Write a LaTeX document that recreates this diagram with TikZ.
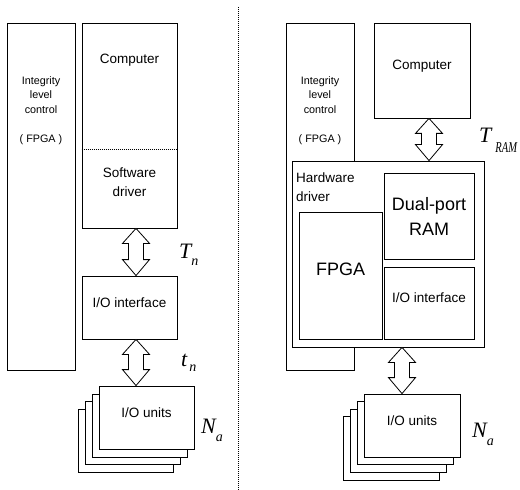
\documentclass[tikz,border=0pt]{standalone}
\usepackage{graphicx}
\usepackage{fontspec}
\setmainfont{Liberation Sans}
\newfontfamily\tms{Liberation Serif}
\usetikzlibrary{fit,calc}
\tikzset{
 box/.style={draw, line width=0.8bp, fill=white, inner sep=0pt},
 arrowline/.style={draw, line width=0.8bp, fill=white, line join=miter},
 normtxt/.style={font=\fontsize{13.5bp}{19bp}\selectfont, inner sep=0pt, align=center},
 smalltxt/.style={font=\fontsize{10.8bp}{14.5bp}\selectfont, inner sep=0pt, align=center},
 bigtxt/.style={font=\fontsize{18bp}{25bp}\selectfont, inner sep=0pt, align=center},
 mathlbl/.style={font=\fontsize{22bp}{22bp}\selectfont\tms\itshape, inner sep=0pt, anchor=base west},
 sepline/.style={line width=0.8bp, dash pattern=on 1bp off 1bp}
}
\newcommand\dblarrow[2]{\draw[arrowline] (#1) -- ($(#1)+(13.5,15)$) -- ($(#1)+(7.5,15)$) -- ($(#2)+(7.5,-16)$) -- ($(#2)+(13.5,-16)$) -- (#2) -- ($(#2)+(-13.5,-16)$) -- ($(#2)+(-7.5,-16)$) -- ($(#1)+(-7.5,15)$) -- ($(#1)+(-13.5,15)$) -- cycle;}
\newcommand\lowsub[3]{\raisebox{-#1}{\fontsize{#2}{#2}\selectfont #3}}
\begin{document}
\begin{tikzpicture}[x=1bp,y=-1bp]
\useasboundingbox (0,0) rectangle (520,490);
% separator
\coordinate (septop) at (238,7);
\coordinate (sepbot) at (238,490);
\draw[sepline] (septop) -- (sepbot);

% ---------- left ----------
\node[box, fit={(7,23) (75,370)}] (ilc) {};
\node[smalltxt, anchor=north] (ilctxt) at (41,76) {Integrity\\level\\control\\[14.5bp]( FPGA )};
\node[box, fit={(82,23) (177,228)}] (comp) {};
\draw[sepline] (comp.west |- 0,149) -- (comp.east |- 0,149);
\node[normtxt, anchor=base] (comptxt) at (129.5,63.5) {Computer};
\node[normtxt, anchor=north] (swd) at (129.5,168) {Software\\driver};
\node[box, normtxt, fit={(82,276) (177,339)}] (ioi) {I/O interface};
\node[box, fit={(78,409) (173,472)}] (u4) {};
\node[box, fit={(85,401.5) (180,464.5)}] (u3) {};
\node[box, fit={(92,394) (187,457)}] (u2) {};
\node[box, normtxt, fit={(99,386) (194,449)}] (u1) {I/O units};
\coordinate (a1t) at ($(comp.south)+(6.5,0)$);
\coordinate (a1b) at (ioi.north -| a1t);
\dblarrow{a1t}{a1b}
\coordinate (a2t) at (ioi.south -| a1t);
\coordinate (a2b) at (u1.north -| a1t);
\dblarrow{a2t}{a2b}
\node[mathlbl] (Tn) at (179,258) {T\lowsub{7bp}{14bp}{n}};
\node[mathlbl] (tn) at (181,366) {t\kern2bp\lowsub{5bp}{14bp}{n}};
\node[mathlbl] (Na) at (201,433) {N\lowsub{8bp}{14bp}{a}};

% ---------- right ----------
\node[box, fit={(286,23) (354,370)}] (rilc) {};
\node[smalltxt, anchor=north] (rilctxt) at (320,76) {Integrity\\level\\control\\[14.5bp]( FPGA )};
\node[box, normtxt, fit={(374,23) (470,118)}] (rcomp) {Computer};
\node[box, fit={(292,161) (484,347)}] (hwd) {};
\node[normtxt, anchor=north west, align=left] (hwdtxt) at (296,173) {Hardware\\driver};
\node[box, fit={(384,173) (474,259)}] (ram) {};
\node[bigtxt, anchor=north] (ramtxt) at (429,197) {Dual-port\\RAM};
\node[box, bigtxt, fit={(299,212) (382,339)}] (fpga) {FPGA};
\node[box, normtxt, fit={(384,267) (474,339)}] (rioi) {I/O interface};
\node[box, fit={(343,416.5) (439,480)}] (ru4) {};
\node[box, fit={(350,409) (446,472)}] (ru3) {};
\node[box, fit={(357,401.5) (453,464.5)}] (ru2) {};
\node[box, normtxt, fit={(364,394) (460,457)}] (ru1) {I/O units};
\coordinate (a3t) at ($(rcomp.south)+(7,0)$);
\coordinate (a3b) at (hwd.north -| a3t);
\dblarrow{a3t}{a3b}
\coordinate (a4t) at ($(hwd.south)+(14,0)$);
\coordinate (a4b) at (ru1.north -| a4t);
\dblarrow{a4t}{a4b}
\node[mathlbl] (Tram) at (479,143) {T\kern4bp\lowsub{10bp}{15bp}{\scalebox{0.7}[1]{RAM}}};
\node[mathlbl] (rNa) at (472,437) {N\lowsub{8bp}{14bp}{a}};
\end{tikzpicture}
\end{document}
